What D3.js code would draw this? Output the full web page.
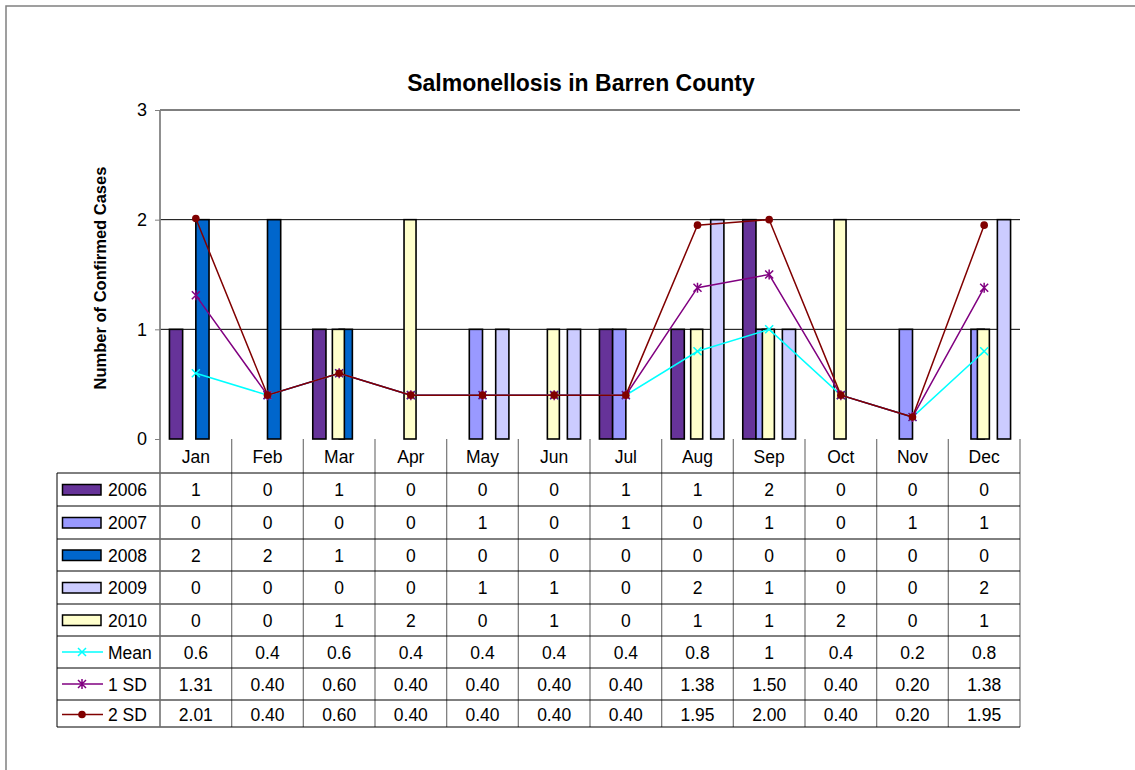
<!DOCTYPE html>
<html><head><meta charset="utf-8">
<script src="https://cdn.jsdelivr.net/npm/d3@7"></script>
<style>body{margin:0;background:#fff}svg{display:block}text{font-family:Arial,"Liberation Sans",sans-serif;fill:#000}</style>
</head><body>
<svg id="c" width="1135" height="770"></svg>
<script>
const months = ["Jan","Feb","Mar","Apr","May","Jun","Jul","Aug","Sep","Oct","Nov","Dec"];
const y2006 = [1,0,1,0,0,0,1,1,2,0,0,0];
const y2007 = [0,0,0,0,1,0,1,0,1,0,1,1];
const y2008 = [2,2,1,0,0,0,0,0,0,0,0,0];
const y2009 = [0,0,0,0,1,1,0,2,1,0,0,2];
const y2010 = [0,0,1,2,0,1,0,1,1,2,0,1];
const meanVals = [0.6,0.4,0.6,0.4,0.4,0.4,0.4,0.8,1,0.4,0.2,0.8];
const sd1Vals = [1.31,0.40,0.60,0.40,0.40,0.40,0.40,1.38,1.50,0.40,0.20,1.38];
const sd2Vals = [2.01,0.40,0.60,0.40,0.40,0.40,0.40,1.95,2.00,0.40,0.20,1.95];
const yTicks = [0,1,2,3];

const svg = d3.select("#c");
const L = 160, R = 1020, T = 110, B = 439;
const x = d3.scaleBand().domain(months).range([L, R]).padding(0);
const y = d3.scaleLinear().domain([0,3]).range([B, T]);
const bw = x.bandwidth();
const FS = "17.5px";

// outer frame
svg.append("rect").attr("x",6).attr("y",6).attr("width",1150).attr("height",800)
  .attr("fill","none").attr("stroke","#808080").attr("stroke-width",1.5);

// title
svg.append("text").attr("x",581).attr("y",91).attr("text-anchor","middle")
  .style("font-size","23px").style("font-weight","bold").text("Salmonellosis in Barren County");

// y axis title
svg.append("text").attr("transform","translate(106,278) rotate(-90)").attr("text-anchor","middle")
  .style("font-size","16.5px").style("font-weight","bold").text("Number of Confirmed Cases");

// gridlines
svg.append("g").selectAll("line").data(yTicks.filter(d=>d>0)).join("line")
  .attr("x1",L).attr("x2",R).attr("y1",d=>y(d)).attr("y2",d=>y(d))
  .attr("stroke","#000").attr("stroke-width",1);

// y axis
const yAxis = d3.axisLeft(y).tickValues(yTicks).tickSize(5).tickPadding(8).tickFormat(d3.format("d"));
const ga = svg.append("g").attr("transform",`translate(${L},0)`).call(yAxis);
ga.select(".domain").remove();
ga.selectAll("line").attr("stroke","#808080");
ga.selectAll("text").style("font-size","18px").style("font-family","Arial, 'Liberation Sans', sans-serif");

// bars
const clusterSeries = [
  {name:"2006", vals:y2006, color:"#663399"},
  {name:"2007", vals:y2007, color:"#9999FF"},
  {name:"2008", vals:y2008, color:"#0066CC"},
  {name:"2009", vals:y2009, color:"#CCCCFF"}
];
const s2010 = {name:"2010", vals:y2010, color:"#FFFFCC"};
const x1 = d3.scaleBand().domain(clusterSeries.map(s=>s.name)).range([bw/2-26.4, bw/2+26.4]).padding(0);
const gb = svg.append("g");
clusterSeries.forEach(s=>{
  gb.append("g").selectAll("rect").data(months.map((m,i)=>({m,v:s.vals[i]})).filter(d=>d.v>0)).join("rect")
    .attr("x",d=>x(d.m)+x1(s.name)).attr("width",x1.bandwidth())
    .attr("y",d=>y(d.v)).attr("height",d=>y(0)-y(d.v))
    .attr("fill",s.color).attr("stroke","#000").attr("stroke-width",1.6);
});
gb.append("g").selectAll("rect").data(months.map((m,i)=>({m,v:s2010.vals[i]})).filter(d=>d.v>0)).join("rect")
  .attr("x",d=>x(d.m)+bw/2-6.8).attr("width",12)
  .attr("y",d=>y(d.v)).attr("height",d=>y(0)-y(d.v))
  .attr("fill",s2010.color).attr("stroke","#000").attr("stroke-width",1.6);

// lines
const lineSeries = [
  {name:"Mean", vals:meanVals, color:"#00FFFF", marker:"x", fmt:d=>String(d)},
  {name:"1 SD", vals:sd1Vals, color:"#800080", marker:"star", fmt:d3.format(".2f")},
  {name:"2 SD", vals:sd2Vals, color:"#800000", marker:"circle", fmt:d3.format(".2f")}
];
const cx = m => x(m)+bw/2;
function drawMarker(g, type, color, px, py){
  if(type==="x"){
    g.append("path").attr("d",`M${px-4},${py-4}L${px+4},${py+4}M${px-4},${py+4}L${px+4},${py-4}`)
      .attr("stroke",color).attr("stroke-width",1.5).attr("fill","none");
  } else if(type==="star"){
    g.append("path").attr("d",`M${px-4},${py-4}L${px+4},${py+4}M${px-4},${py+4}L${px+4},${py-4}M${px},${py-5}L${px},${py+5}`)
      .attr("stroke",color).attr("stroke-width",1.5).attr("fill","none");
  } else {
    g.append("circle").attr("cx",px).attr("cy",py).attr("r",3.8).attr("fill",color);
  }
}
const line = d3.line().x(d=>cx(d.m)).y(d=>y(d.v));
lineSeries.forEach(s=>{
  const data = months.map((m,i)=>({m,v:s.vals[i]}));
  const g = svg.append("g");
  g.append("path").datum(data).attr("d",line).attr("fill","none").attr("stroke",s.color).attr("stroke-width",1.5);
  data.forEach(d=>drawMarker(g, s.marker, s.color, cx(d.m), y(d.v)));
});

// data table
const rowTops = [473,506,539,571,604,636,668,700,727];
const tg = svg.append("g");
const bounds = months.map(m=>x(m)).concat([R]);
tg.selectAll("line.v").data(bounds).join("line").attr("class","v")
  .attr("x1",d=>d).attr("x2",d=>d).attr("y1",(d,i)=> i===0 ? T : B).attr("y2",727)
  .attr("stroke","#808080").attr("stroke-width",1.3);
tg.selectAll("line.h").data(rowTops).join("line").attr("class","h")
  .attr("x1",57).attr("x2",R).attr("y1",d=>d).attr("y2",d=>d)
  .attr("stroke","#000").attr("stroke-width",1);
tg.append("line").attr("x1",57).attr("x2",57).attr("y1",473).attr("y2",727).attr("stroke","#000");
tg.append("line").attr("x1",L).attr("x2",L).attr("y1",T).attr("y2",727).attr("stroke","#808080").attr("stroke-width",1.3);

tg.selectAll("text.m").data(months).join("text").attr("class","m")
  .attr("x",d=>cx(d)).attr("y",463).attr("text-anchor","middle").style("font-size",FS).text(d=>d);

const allRows = clusterSeries.concat([s2010]).map(s=>({...s, kind:"bar", fmt:d=>String(d)})).concat(lineSeries.map(s=>({...s, kind:"line"})));
allRows.forEach((s,ri)=>{
  const top = rowTops[ri], bot = rowTops[ri+1];
  const mid = ri===7 ? (top+bot)/2+1 : (top+bot)/2;
  if(s.kind==="bar"){
    tg.append("rect").attr("x",62.5).attr("y",mid-5).attr("width",38.5).attr("height",10.5)
      .attr("fill",s.color).attr("stroke","#000").attr("stroke-width",1.5);
  } else {
    tg.append("line").attr("x1",62).attr("x2",103).attr("y1",mid).attr("y2",mid).attr("stroke",s.color).attr("stroke-width",1.5);
    drawMarker(tg, s.marker, s.color, 82, mid);
  }
  tg.append("text").attr("x",108).attr("y",mid+6.5).style("font-size",FS).text(s.name);
  tg.selectAll(null).data(months.map((m,i)=>({m,v:s.vals[i]}))).join("text")
    .attr("x",d=>cx(d.m)).attr("y",mid+6.5).attr("text-anchor","middle").style("font-size",FS).text(d=>s.fmt(d.v));
});
</script>
</body></html>
